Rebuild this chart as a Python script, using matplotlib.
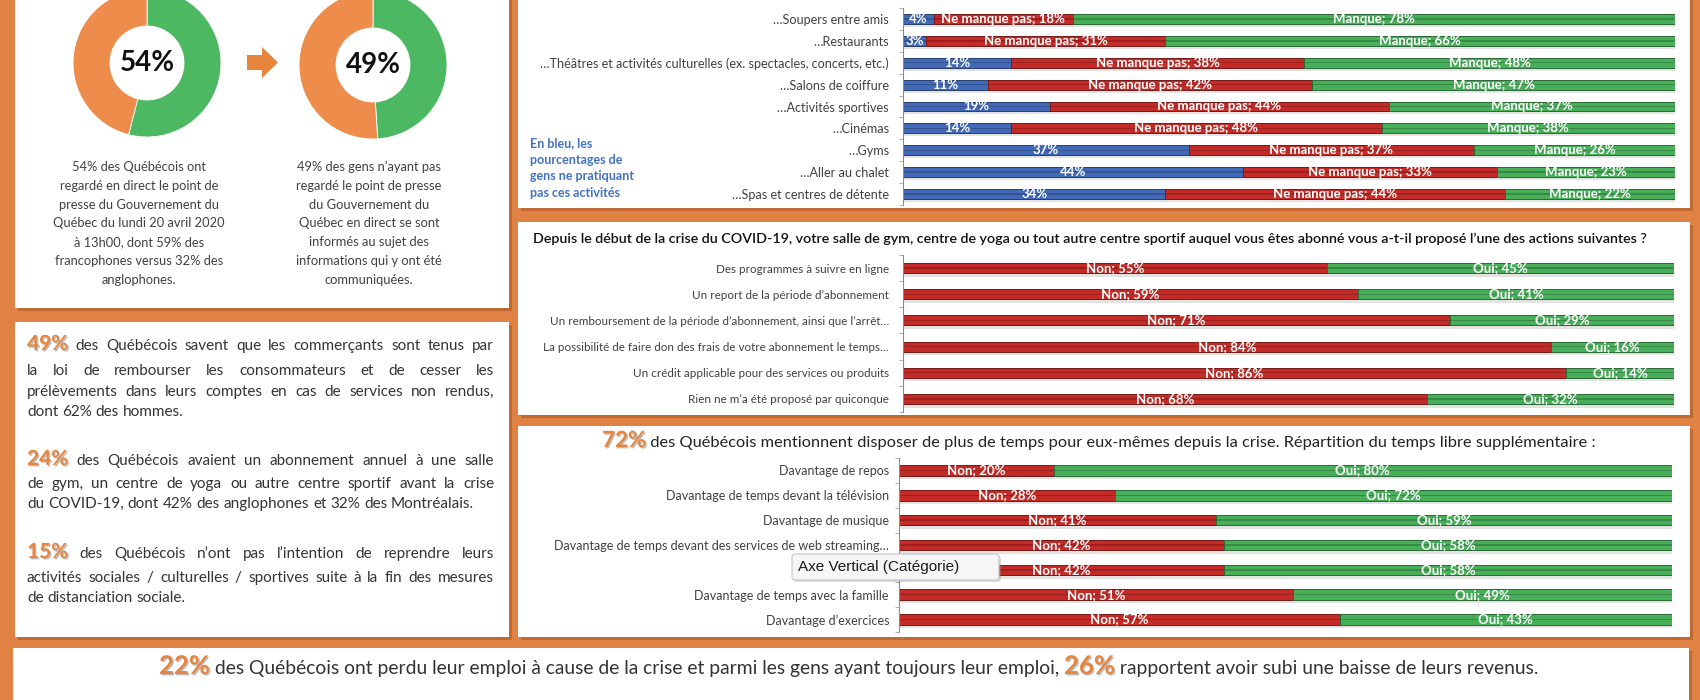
import numpy as np
import matplotlib
matplotlib.use('Agg')
import matplotlib.pyplot as plt
import matplotlib.patheffects as pe
from matplotlib.colors import to_rgb
from matplotlib.patches import Rectangle, FancyArrow, FancyBboxPatch

plt.rcParams['font.family'] = ['Lato', 'DejaVu Sans']

# donuts : vert = a regardé / s'est informé
donut_pcts = ['54%', '49%']
donut1 = [54, 46]
donut2 = [49, 51]

# activités qui manquent (bleu = ne pratique pas)
act_labels = ['…Soupers entre amis', '…Restaurants',
              '…Théâtres et activités culturelles (ex. spectacles, concerts, etc.)',
              '…Salons de coiffure', '…Activités sportives', '…Cinémas', '…Gyms',
              '…Aller au chalet', '…Spas et centres de détente']
act_blue = [4, 3, 14, 11, 19, 14, 37, 44, 34]
act_red = [18, 31, 38, 42, 44, 48, 37, 33, 44]
act_green = [78, 66, 48, 47, 37, 38, 26, 23, 22]

# actions proposées par les centres sportifs
gym_labels = ['Des programmes à suivre en ligne',
              'Un report de la période d’abonnement',
              'Un remboursement de la période d’abonnement, ainsi que l’arrêt…',
              'La possibilité de faire don des frais de votre abonnement le temps…',
              'Un crédit applicable pour des services ou produits',
              'Rien ne m’a été proposé par quiconque']
gym_non = [55, 59, 71, 84, 86, 68]
gym_oui = [45, 41, 29, 16, 14, 32]

# temps libre supplémentaire
temps_labels = ['Davantage de repos', 'Davantage de temps devant la télévision',
                'Davantage de musique',
                'Davantage de temps devant des services de web streaming…',
                'Davantage de …', 'Davantage de temps avec la famille',
                'Davantage d’exercices']
temps_non = [20, 28, 41, 42, 42, 51, 57]
temps_oui = [80, 72, 59, 58, 58, 49, 43]

txt_donut1 = ['54% des Québécois ont', 'regardé en direct le point de',
              'presse du Gouvernement du', 'Québec du lundi 20 avril 2020',
              'à 13h00, dont 59% des', 'francophones versus 32% des', 'anglophones.']
txt_donut2 = ['49% des gens n’ayant pas', 'regardé le point de presse',
              'du Gouvernement du', 'Québec en direct se sont',
              'informés au sujet des', 'informations qui y ont été', 'communiquées.']

paragraphs = [
    ('49%', ['des Québécois savent que les commerçants sont tenus par',
             'la loi de rembourser les consommateurs et de cesser les',
             'prélèvements dans leurs comptes en cas de services non rendus,',
             'dont 62% des hommes.'], [350, 375, 396, 416]),
    ('24%', ['des Québécois avaient un abonnement annuel à une salle',
             'de gym, un centre de yoga ou autre centre sportif avant la crise',
             'du COVID-19, dont 42% des anglophones et 32% des Montréalais.'], [465, 488, 508]),
    ('15%', ['des Québécois n’ont pas l’intention de reprendre leurs',
             'activités sociales / culturelles / sportives suite à la fin des mesures',
             'de distanciation sociale.'], [558, 582, 602]),
]

W, H = 1700, 700
ORANGE = '#E08243'
BIG = '#E8853D'
BLUE, RED, GREEN = '#4169B8', '#C42A26', '#46AF58'
shadow = [pe.withSimplePatchShadow(offset=(1, -1), shadow_rgbFace='#7a7a7a', alpha=0.5)]

fig = plt.figure(figsize=(17, 7), dpi=100)
fig.patch.set_facecolor(ORANGE)
bg = fig.add_axes([0, 0, 1, 1])
bg.set_xlim(0, W)
bg.set_ylim(H, 0)
bg.axis('off')
renderer = fig.canvas.get_renderer()


def px_axes(x0, y0, x1, y1):
    return fig.add_axes([x0 / W, 1 - y1 / H, (x1 - x0) / W, (y1 - y0) / H])


def panel(x0, y0, x1, y1):
    bg.add_patch(Rectangle((x0 + 3, y0 + 3), x1 - x0, y1 - y0, color='#B0602C', alpha=0.7, lw=0))
    bg.add_patch(Rectangle((x0, y0), x1 - x0, y1 - y0, color='white', lw=0))


panel(15, -10, 509, 308)
panel(15, 322, 509, 637)
panel(518, -10, 1690, 208)
panel(518, 222, 1690, 415)
panel(518, 426, 1690, 637)
panel(13, 648, 1689, 720)

# donuts
for vals, lab, (cx, cy) in zip([donut1, donut2], donut_pcts, [(147, 63), (373, 65)]):
    r = 74
    ax = px_axes(cx - r, cy - r, cx + r, cy + r)
    ax.pie(vals, colors=['#4DB862', '#EE8C4B'], startangle=90, counterclock=False,
           radius=1, wedgeprops=dict(width=0.5, edgecolor='white', linewidth=0.6))
    ax.set_xlim(-1, 1)
    ax.set_ylim(-1, 1)
    ax.set_aspect('equal')
    ax.axis('off')
    ax.text(0, 0, lab, ha='center', va='center', fontsize=20, fontweight='bold', color='#111111')

bg.add_patch(FancyArrow(247, 62.5, 31, 0, width=15, head_width=31, head_length=16,
                        length_includes_head=True, color='#E8853D', lw=0))

for lines, cx in [(txt_donut1, 139), (txt_donut2, 369)]:
    for i, s in enumerate(lines):
        bg.text(cx, 171 + i * 18.8, s, ha='center', va='baseline', fontsize=9.3, color='#404040')

# paragraphes justifiés
body = dict(fontsize=11, color='#333333')
big = dict(fontsize=15, fontweight='bold', color=BIG, path_effects=shadow)
t1 = bg.text(0, 0, ' a', **body)
t2 = bg.text(0, 0, 'a', **body)
space_w = t1.get_window_extent(renderer).width - t2.get_window_extent(renderer).width
t1.remove()
t2.remove()


def justify(words, x0, x1, y, last=False):
    arts = [bg.text(0, y, s, va='baseline', ha='left', **st) for s, st in words]
    ws = [a.get_window_extent(renderer).width for a in arts]
    gap = space_w if last else (x1 - x0 - sum(ws)) / (len(arts) - 1)
    x = x0
    for a, w in zip(arts, ws):
        a.set_x(x)
        x += w + gap


for num, lines, ys in paragraphs:
    for i, (s, y) in enumerate(zip(lines, ys)):
        words = [(w, body) for w in s.split()]
        if i == 0:
            words = [(num, big)] + words
        justify(words, 27, 494, y, last=(i == len(lines) - 1))


def fit_runs(runs, x0, x1, y):
    arts = [bg.text(0, y, s, va='baseline', ha='left', **st) for s, st in runs]
    ws = [a.get_window_extent(renderer).width for a in arts]
    k = (x1 - x0) / sum(ws)
    for a in arts:
        a.set_fontsize(a.get_fontsize() * k)
    ws = [a.get_window_extent(renderer).width for a in arts]
    x = x0
    for a, w in zip(arts, ws):
        a.set_x(x)
        x += w


fit_runs([('Depuis le début de la crise du COVID-19, votre salle de gym, centre de yoga ou tout autre '
           'centre sportif auquel vous êtes abonné vous a-t-il proposé l’une des actions suivantes ?',
           dict(fontsize=9, fontweight='semibold', color='#111111'))], 533, 1661, 243)
fit_runs([('72%', dict(fontsize=15, fontweight='bold', color=BIG, path_effects=shadow)),
          (' des Québécois mentionnent disposer de plus de temps pour eux-mêmes depuis la crise. '
           'Répartition du temps libre supplémentaire :', dict(fontsize=11, color='#222222'))],
         602, 1592, 447)
fit_runs([('22%', dict(fontsize=16, fontweight='bold', color=BIG, path_effects=shadow)),
          (' des Québécois ont perdu leur emploi à cause de la crise et parmi les gens ayant toujours leur emploi, ',
           dict(fontsize=12, color='#333333')),
          ('26%', dict(fontsize=16, fontweight='bold', color=BIG, path_effects=shadow)),
          (' rapportent avoir subi une baisse de leurs revenus.', dict(fontsize=12, color='#333333'))],
         159, 1542, 674)

for i, s in enumerate(['En bleu, les', 'pourcentages de', 'gens ne pratiquant', 'pas ces activités']):
    bg.text(530, 147 + i * 16.6, s, va='baseline', ha='left', fontsize=9,
            fontweight='bold', color='#4472C4')


def stacked(rect, labels, series, colors, fmts, height, tick_fs, pad_px):
    ax = px_axes(*rect)
    n = len(labels)
    y = np.arange(n)
    total = np.sum(series, axis=0)
    ax.barh(y + 0.14, total, height=height, color='#808080', alpha=0.22, lw=0)
    left = np.zeros(n)
    for vals, col, fmt in zip(series, colors, fmts):
        vals = np.asarray(vals, dtype=float)
        dark = tuple(np.array(to_rgb(col)) * 0.6)
        bars = ax.barh(y, vals, left=left, height=height, color=col, edgecolor=dark, linewidth=0.7)
        ax.barh(y, vals, left=left, height=height * 0.14, color=dark, lw=0, alpha=0.5)
        ax.bar_label(bars, labels=[fmt.format(int(v)) for v in vals], label_type='center',
                     color='white', fontsize=9.5, fontweight='bold')
        left += vals
    ax.set_xlim(0, 100)
    ax.set_ylim(n - 0.5, -0.5)
    ax.set_yticks(y, labels, fontsize=tick_fs, color='#404040')
    ax.set_yticks(np.arange(n + 1) - 0.5, minor=True)
    ax.tick_params(axis='y', which='major', length=0, pad=pad_px * 0.72)
    ax.tick_params(axis='y', which='minor', length=3, color='#a0a0a0')
    for s in ['top', 'right', 'bottom']:
        ax.spines[s].set_visible(False)
    ax.spines['left'].set_color('#8c8c8c')
    ax.xaxis.set_visible(False)
    ax.patch.set_alpha(0)
    return ax


stacked((903, 8, 1675, 205), act_labels, [act_blue, act_red, act_green], [BLUE, RED, GREEN],
        ['{}%', 'Ne manque pas; {}%', 'Manque; {}%'], 0.45, 9.1, 14)
stacked((903, 255, 1674, 412), gym_labels, [gym_non, gym_oui], [RED, GREEN],
        ['Non; {}%', 'Oui; {}%'], 0.38, 8.4, 14)
stacked((899, 458, 1672, 632), temps_labels, [temps_non, temps_oui], [RED, GREEN],
        ['Non; {}%', 'Oui; {}%'], 0.42, 9, 10)

# infobulle par-dessus
ov = fig.add_axes([0, 0, 1, 1])
ov.set_xlim(0, W)
ov.set_ylim(H, 0)
ov.axis('off')
ov.add_patch(FancyBboxPatch((794, 556), 207, 26, boxstyle='round,pad=0,rounding_size=3',
                            fc='#9a9a9a', ec='none', alpha=0.35))
ov.add_patch(FancyBboxPatch((792, 554), 207, 26, boxstyle='round,pad=0,rounding_size=3',
                            fc='#F6F6F6', ec='#C4C4C4', lw=0.8))
ov.text(798, 567.5, 'Axe Vertical (Catégorie)', ha='left', va='center',
        family='Liberation Sans', fontsize=11, color='#1a1a1a')

fig.savefig('out.png', dpi=100, facecolor=fig.get_facecolor())
